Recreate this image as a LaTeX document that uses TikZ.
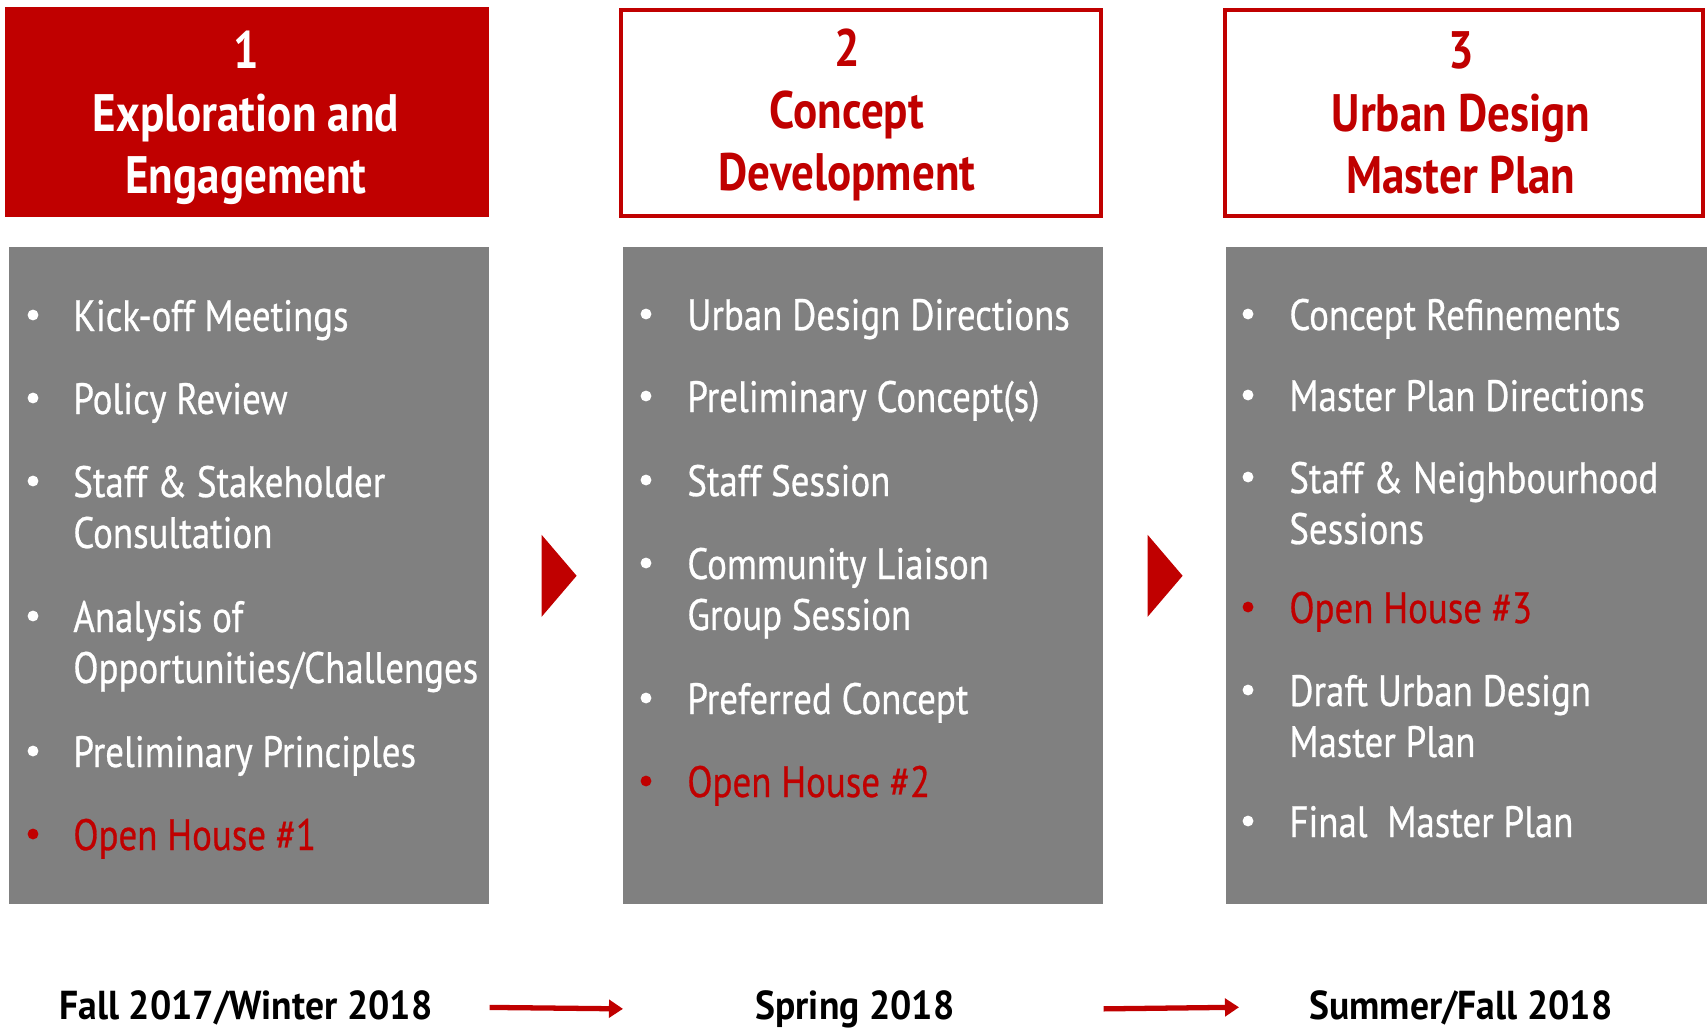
\documentclass[tikz,border=0pt]{standalone}
\usepackage{fontspec}
\setmainfont{PT Sans}
\newfontfamily\taskfont{PT Sans}[FakeStretch=0.84, FakeBold=0.6]
\newfontfamily\titlefont{PT Sans}[FakeStretch=0.855]
\newfontfamily\datefont{PT Sans}[FakeStretch=0.93]
\usetikzlibrary{arrows.meta}

\definecolor{planred}{HTML}{C00000}
\definecolor{plangrey}{HTML}{808080}

% keeps the first line of a task on the node's baseline
\newcommand\tasklines[1]{\parbox[t]{9cm}{#1}}

\tikzset{
  phasebox/.style={draw=planred, line width=2.3pt, fill=white, inner sep=0pt},
  listbox/.style={fill=plangrey, inner sep=0pt, anchor=north west,
    minimum width=9.6cm, minimum height=13.14cm},
  phasetitle/.style={align=center, inner sep=0pt, text=planred,
    font=\titlefont\bfseries\fontsize{30}{35.5}\selectfont},
  task/.style={anchor=base west, inner sep=0pt, font=\taskfont\fontsize{25}{29}\selectfont},
  when/.style={anchor=base, inner sep=0pt, font=\datefont\bfseries\fontsize{23}{26}\selectfont},
  timeline/.style={planred, line width=3pt, -{Triangle[length=8pt,width=10pt]}},
}

\begin{document}
\begin{tikzpicture}[x=0.02cm, y=-0.02cm]
\useasboundingbox (0,0) rectangle (1707,1028);

% phase headers
\node[phasebox, fill=planred, draw=none, minimum width=9.68cm, minimum height=4.2cm] (h1) at (246.6,111.6) {};
\node[phasebox, minimum width=9.6cm, minimum height=4.12cm] (h2) at (861,113) {};
\node[phasebox, minimum width=9.56cm, minimum height=4.12cm] (h3) at (1464,113) {};
\node[phasetitle, text=white] (t1) at (246,118) {1\\Exploration and\\Engagement};
\node[phasetitle] (t2) at (847,115) {2\\Concept\\Development};
\node[phasetitle] (t3) at (1461,113) {3\\Urban Design\\Master Plan};

% grey task lists
\node[listbox] (g1) at (9,247) {};
\node[listbox] (g2) at (623,247) {};
\node[listbox, minimum width=9.62cm] (g3) at (1226,247) {};

\foreach \i/\y/\c/\t in {1/315/white/{Kick-off Meetings},
    2/398/white/{Policy Review},
    3/481/white/{Staff \& Stakeholder\\Consultation},
    4/616/white/{Analysis of\\Opportunities/Challenges},
    5/751/white/{Preliminary Principles},
    6/834/planred/{Open House \#1}}
{
  \fill[\c] (33,\y) circle[radius=3.1pt];
  \node[task, text=\c] (p1-\i) at (73,\y+16) {\tasklines{\t}};
}

\foreach \i/\y/\c/\t in {1/314/white/{Urban Design Directions},
    2/396/white/{Preliminary Concept(s)},
    3/480/white/{Staff Session},
    4/563/white/{Community Liaison\\Group Session},
    5/698/white/{Preferred Concept},
    6/781/planred/{Open House \#2}}
{
  \fill[\c] (646,\y) circle[radius=3.1pt];
  \node[task, text=\c] (p2-\i) at (687,\y+16) {\tasklines{\t}};
}

\foreach \i/\y/\c/\t in {1/314/white/{Concept Refinements},
    2/395/white/{Master Plan Directions},
    3/477/white/{Staff \& Neighbourhood\\Sessions},
    4/607/planred/{Open House \#3},
    5/690/white/{Draft Urban Design\\Master Plan},
    6/821/white/{Final\ \ Master Plan}}
{
  \fill[\c] (1248,\y) circle[radius=3.1pt];
  \node[task, text=\c] (p3-\i) at (1289,\y+16) {\tasklines{\t}};
}

% arrows between the phases
\fill[planred] (g1.east) ++(52,-41) -- ++(35,41) -- ++(-35,41) -- cycle;
\fill[planred] (g2.east) ++(44,-41) -- ++(35,41) -- ++(-35,41) -- cycle;

% timing
\node[when] (d1) at (246,1019) {Fall 2017/Winter 2018};
\node[when] (d2) at (855,1019) {Spring 2018};
\node[when] (d3) at (1461,1019) {Summer/Fall 2018};
\draw[timeline] (g1.east |- d1) -- (g2.west |- d2);
\draw[timeline, shorten >=-0.26cm] (g2.east |- d2) -- (g3.west |- d3);
\end{tikzpicture}
\end{document}
